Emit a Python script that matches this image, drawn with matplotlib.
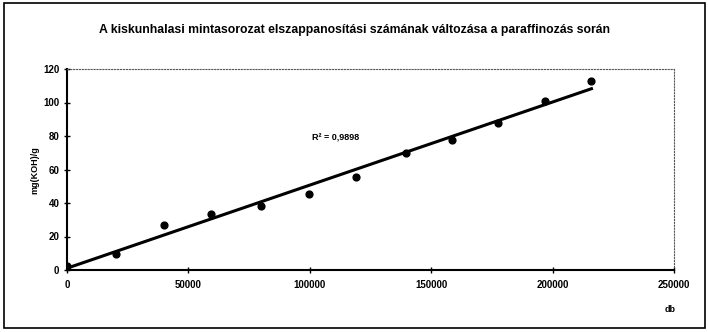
import numpy as np
import matplotlib
matplotlib.use('Agg')
import matplotlib.pyplot as plt
from matplotlib.patches import Rectangle

plt.rcParams['font.family'] = ['Liberation Sans', 'DejaVu Sans']

# mérési pontok
db = [0, 20000, 40000, 59500, 80000, 99500, 119000, 139500, 158500, 177500, 197000, 216000]
mg_koh = [2.5, 9.5, 27, 33.5, 38, 45.5, 55.5, 70, 77.5, 88, 101, 113]
x_ticks = [0, 50000, 100000, 150000, 200000, 250000]
y_ticks = [0, 20, 40, 60, 80, 100, 120]

fig = plt.figure(figsize=(7.08, 3.32), dpi=100)
fig.patches.append(Rectangle((0.006, 0.012), 0.99, 0.978, transform=fig.transFigure,
                             fill=False, edgecolor='black', linewidth=1.2))
ax = fig.add_axes([67/708, 1-270/332, (674-67)/708, (270-69)/332])

# trendvonal
k, b = np.polyfit(db, mg_koh, 1)
xx = np.array([db[0], db[-1]])
ax.plot(xx, k*xx + b, color='black', linewidth=2.2, zorder=2)
ax.scatter(db, mg_koh, s=24, color='black', zorder=3)

ax.set_xlim(0, 250000)
ax.set_ylim(0, 120)
ax.set_xticks(x_ticks)
ax.set_yticks(y_ticks)
ax.tick_params(axis='both', labelsize=7, direction='inout', length=4, width=1)
for lab in ax.get_xticklabels() + ax.get_yticklabels():
    lab.set_fontweight('bold')
ax.tick_params(axis='x', pad=5)

ax.spines['left'].set_linewidth(1.5)
ax.spines['bottom'].set_linewidth(1.5)
ax.spines['top'].set_linestyle(':')
ax.spines['right'].set_linestyle(':')
ax.spines['top'].set_color('#555555')
ax.spines['right'].set_color('#555555')

ax.text(101000, 79, 'R² = 0,9898', fontsize=6.5, fontweight='bold', va='center')

fig.text(355/708, 1-30/332, 'A kiskunhalasi mintasorozat elszappanosítási számának változása a paraffinozás során',
         ha='center', va='center', fontsize=8.8, fontweight='bold')
fig.text(35/708, 1-170/332, 'mg(KOH)/g', rotation=90, ha='center', va='center',
         fontsize=6.5, fontweight='bold')
fig.text(670/708, 1-310/332, 'db', ha='center', va='center', fontsize=6.5, fontweight='bold')

fig.savefig('out.png', dpi=100)
